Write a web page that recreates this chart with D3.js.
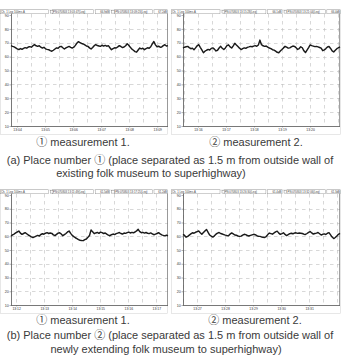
<!DOCTYPE html>
<html><head><meta charset="utf-8">
<script src="https://cdn.jsdelivr.net/npm/d3@7"></script>
<style>html,body{margin:0;padding:0;background:#fff;}svg{display:block;}</style>
</head><body>
<svg id="c" width="341" height="363"></svg>
<script>
// ---------- data ----------
const yTicks = [10, 20, 30, 40, 50, 60, 70, 80, 90];

const series1 = [67.9,67.4,67.0,66.3,65.6,65.1,65.8,65.3,66.0,66.5,66.1,66.9,67.2,66.8,67.9,68.6,67.8,67.4,67.9,66.8,
66.2,66.7,65.6,65.2,65.0,64.3,63.9,64.6,65.5,66.3,66.0,67.1,67.4,66.4,65.5,66.3,66.9,67.4,66.7,66.2,
66.8,68.1,69.8,70.8,70.0,69.5,69.1,68.4,67.7,67.4,66.3,65.5,66.6,67.9,68.6,68.0,67.7,67.4,68.2,67.6,
68.1,67.5,67.9,66.4,65.0,65.7,66.4,66.2,67.0,67.9,67.3,66.5,66.9,67.8,69.3,68.2,66.7,65.4,64.6,63.6,
63.2,64.8,66.2,65.6,66.0,65.0,65.7,66.4,66.0,67.1,69.2,70.9,68.5,67.1,67.5,66.8,67.0,67.9,68.6,67.6,67.9];

const series2 = [66.2,66.8,67.1,67.4,66.5,65.7,66.1,65.0,66.3,67.8,68.6,66.7,64.9,62.8,63.9,64.6,65.2,64.8,65.9,66.3,
65.4,64.1,64.6,66.2,67.4,66.0,65.1,66.3,67.9,68.5,67.0,66.2,67.8,69.6,68.4,67.3,66.1,65.1,65.8,66.3,
66.0,66.7,67.0,67.4,67.1,67.6,67.9,67.5,68.4,71.9,68.6,67.8,67.4,67.6,66.9,66.2,65.8,65.0,64.7,63.9,
63.1,62.8,64.0,65.1,66.3,67.4,66.8,66.1,66.3,67.0,67.6,67.4,66.5,65.2,65.8,67.1,66.4,64.2,62.9,64.7,
66.5,68.4,67.9,67.6,67.2,67.4,67.0,66.6,66.1,64.3,64.9,65.8,66.9,67.3,65.9,64.2,63.4,64.6,65.7,66.4,67.0];

const series3 = [60.2,61.0,61.6,62.5,63.1,63.8,62.3,61.4,62.0,62.6,61.8,60.9,60.3,59.6,59.1,59.5,60.1,60.6,60.2,61.3,
61.8,61.5,62.2,62.6,62.0,62.4,62.1,61.0,60.5,61.4,62.3,62.6,61.6,60.4,61.2,62.0,63.1,63.8,62.1,60.6,
59.7,58.9,58.3,57.6,57.1,56.9,56.8,57.5,58.0,59.2,60.5,64.6,63.2,61.9,62.4,62.8,62.1,63.0,62.6,62.0,
62.4,61.5,60.8,60.4,61.1,61.6,61.2,61.9,62.3,62.7,62.0,61.6,62.3,62.1,62.6,63.0,62.4,62.8,62.5,63.1,
63.9,65.0,63.4,62.6,62.8,62.3,62.7,62.2,61.9,62.4,61.8,61.1,61.5,62.0,62.6,61.7,61.0,60.6,60.3,60.8,60.4];

const series4 = [61.4,60.6,59.3,59.9,60.8,61.7,62.5,62.2,62.9,63.4,63.8,62.6,61.5,62.7,63.9,64.9,62.8,60.9,60.1,59.4,
60.3,61.5,62.3,62.7,62.0,61.6,61.2,60.8,60.5,60.3,61.6,62.4,61.7,60.9,60.7,60.2,59.9,60.1,60.8,61.4,
61.2,60.5,60.2,60.6,61.0,61.4,61.1,60.4,60.0,59.9,59.5,59.3,59.1,59.8,61.2,62.3,61.9,61.5,62.4,63.2,
63.7,62.3,61.4,61.9,62.5,61.3,60.5,61.2,61.9,62.2,61.8,62.3,62.5,62.1,62.4,62.2,62.0,61.5,61.3,62.0,
62.8,63.4,62.4,61.6,62.0,62.3,62.7,61.8,60.9,61.4,61.7,61.3,62.2,62.6,61.0,59.4,58.3,59.1,60.2,61.4,62.1];

// time windows (start, end) and minute tick labels for each panel
const window1 = ["13:03:47", "13:09:23"];
const ticks1  = ["13:04", "13:05", "13:06", "13:07", "13:08", "13:09"];
const window2 = ["13:15:28", "13:21:04"];
const ticks2  = ["13:16", "13:17", "13:18", "13:19", "13:20"];
const window3 = ["13:11:49", "13:17:25"];
const ticks3  = ["13:12", "13:13", "13:14", "13:15", "13:16", "13:17"];
const window4 = ["13:26:30", "13:32:06"];
const ticks4  = ["13:27", "13:28", "13:29", "13:30", "13:31"];

const header1 = ["Ch. 1 Leq 100ms A", "PN:070803 13:03:47(Leq)", "66.9dB", "PN:070803 13:09:23(Leq)", "67.2dB"];
const header2 = ["Ch. 1 Leq 100ms A", "PN:070803 13:15:28(Leq)", "66.1dB", "PN:070803 13:21:04(Leq)", "66.4dB"];
const header3 = ["Ch. 1 Leq 100ms A", "PN:070803 13:11:49(Leq)", "61.5dB", "PN:070803 13:17:25(Leq)", "61.2dB"];
const header4 = ["Ch. 1 Leq 100ms A", "PN:070803 13:26:30(Leq)", "61.4dB", "PN:070803 13:32:06(Leq)", "61.3dB"];

const subCaptions = ["\u2460 measurement 1.", "\u2461 measurement 2."];
const captionA = ["(a) Place number \u2460 (place separated as 1.5 m from outside wall of", "existing folk museum to superhighway)"];
const captionB = ["(b) Place number \u2461 (place separated as 1.5 m from outside wall of", "newly extending folk museum to superhighway)"];

// ---------- drawing ----------
const svg = d3.select("#c");
const parseT = d3.timeParse("%H:%M:%S");
const parseM = d3.timeParse("%H:%M");
const tinyFont = "Liberation Sans, Arial, sans-serif";

function panel(cfg) {
  const {x0, x1, yTop, yBot, hx0, hx1, hy, values, win, ticks, header} = cfg;
  const t0 = parseT(win[0]), t1 = parseT(win[1]);
  const x = d3.scaleTime().domain([t0, t1]).range([x0, x1]);
  const y = d3.scaleLinear().domain([10, 90]).range([yBot, yTop]);
  const g = svg.append("g");

  // outer light frame
  g.append("rect").attr("x", hx0 + 0.5).attr("y", hy + 0.5)
    .attr("width", hx1 - hx0 - 1).attr("height", yBot + 8 - hy)
    .attr("fill", "none").attr("stroke", "#d8d8d8").attr("stroke-width", 0.6);

  // header strip
  const hh = 4;
  const hg = g.append("g").attr("font-family", tinyFont).attr("font-size", 2.8).attr("fill", "#444");
  const w = hx1 - hx0;
  const boxes = [
    [0, 0.29, header[0], "start"],
    [0.31, 0.56, header[1], "start"],
    [0.565, 0.655, header[2], "end"],
    [0.68, 0.91, header[3], "start"],
    [0.915, 1.0, header[4], "end"]
  ];
  boxes.forEach(([a, b, txt, anc]) => {
    const bx = hx0 + a * w, bw = (b - a) * w;
    hg.append("rect").attr("x", bx + 0.3).attr("y", hy + 0.3).attr("width", bw - 0.6).attr("height", hh)
      .attr("fill", "#fff").attr("stroke", "#888").attr("stroke-width", 0.4);
    hg.append("text").attr("x", anc === "end" ? bx + bw - 1 : bx + 1).attr("y", hy + 3.3)
      .attr("text-anchor", anc).text(txt);
  });
  [0.30, 0.665].forEach(a => {
    hg.append("rect").attr("x", hx0 + a * w).attr("y", hy + 1).attr("width", 2.6).attr("height", 2.6)
      .attr("fill", "#fff").attr("stroke", "#777").attr("stroke-width", 0.4);
  });

  // grid
  const gridT = x.ticks(d3.timeSecond.every(30));
  g.append("g").selectAll("line").data(gridT).join("line")
    .attr("x1", d => Math.round(x(d)) + 0.5).attr("x2", d => Math.round(x(d)) + 0.5)
    .attr("y1", yTop - 1).attr("y2", yBot)
    .attr("stroke", "#bdbdbd").attr("stroke-width", 0.6).attr("stroke-dasharray", "3.5,3.5");
  g.append("g").selectAll("line").data(yTicks.filter(v => v > 10 && v < 90)).join("line")
    .attr("x1", x0).attr("x2", x1)
    .attr("y1", d => Math.round(y(d)) + 0.5).attr("y2", d => Math.round(y(d)) + 0.5)
    .attr("stroke", "#bdbdbd").attr("stroke-width", 0.6).attr("stroke-dasharray", "3.5,3.5");

  // frame lines
  g.append("line").attr("x1", x0 + 0.5).attr("x2", x0 + 0.5).attr("y1", hy + hh).attr("y2", yBot + 0.5)
    .attr("stroke", "#555").attr("stroke-width", 0.8);
  g.append("line").attr("x1", x1 - 0.5).attr("x2", x1 - 0.5).attr("y1", hy + hh).attr("y2", yBot + 0.5)
    .attr("stroke", "#777").attr("stroke-width", 0.7);
  g.append("line").attr("x1", x0).attr("x2", x1).attr("y1", yBot + 0.5).attr("y2", yBot + 0.5)
    .attr("stroke", "#555").attr("stroke-width", 0.8);

  // y axis labels
  const yAxis = d3.axisLeft(y).tickValues(yTicks).tickSize(1.5).tickPadding(0.8);
  const ya = g.append("g").attr("transform", `translate(${x0},0)`).call(yAxis);
  ya.select(".domain").remove();
  ya.selectAll("line").attr("stroke", "#666").attr("stroke-width", 0.5);
  ya.selectAll("text").attr("font-size", 3.6).attr("font-family", tinyFont).attr("fill", "#333");

  // x axis labels
  const xAxis = d3.axisBottom(x).tickValues(ticks.map(s => {
      const m = parseM(s); const d = new Date(t0); d.setHours(m.getHours(), m.getMinutes(), 0, 0); return d;
    })).tickFormat((d, i) => ticks[i]).tickSize(1.5).tickPadding(0.6);
  const xa = g.append("g").attr("transform", `translate(0,${yBot})`).call(xAxis);
  xa.select(".domain").remove();
  xa.selectAll("line").attr("stroke", "#666").attr("stroke-width", 0.5);
  xa.selectAll("text").attr("font-size", 3.4).attr("font-family", tinyFont).attr("fill", "#333");

  // series
  const n = values.length - 1;
  const line = d3.line()
    .x((d, i) => x(new Date(+t0 + (t1 - t0) * i / n)))
    .y(d => y(d));
  g.append("path").datum(values).attr("d", line)
    .attr("fill", "none").attr("stroke", "#1a1a1a").attr("stroke-width", 1.45)
    .attr("stroke-linejoin", "round");
}

panel({x0: 11, x1: 168, yTop: 15, yBot: 126, hx0: 0, hx1: 168, hy: 9.5, values: series1, win: window1, ticks: ticks1, header: header1});
panel({x0: 183, x1: 340, yTop: 15, yBot: 126, hx0: 171, hx1: 341, hy: 9.5, values: series2, win: window2, ticks: ticks2, header: header2});
panel({x0: 11, x1: 168, yTop: 195, yBot: 305, hx0: 0, hx1: 168, hy: 189.5, values: series3, win: window3, ticks: ticks3, header: header3});
panel({x0: 183, x1: 340, yTop: 195, yBot: 305, hx0: 171, hx1: 341, hy: 189.5, values: series4, win: window4, ticks: ticks4, header: header4});

// captions
const capFont = "Liberation Sans, Noto Sans CJK KR, sans-serif";
const cap = svg.append("g").attr("font-family", capFont).attr("font-size", 11).attr("fill", "#3a3a3a");
cap.append("text").attr("x", 83).attr("y", 146).attr("text-anchor", "middle").text(subCaptions[0]);
cap.append("text").attr("x", 256).attr("y", 146).attr("text-anchor", "middle").text(subCaptions[1]);
cap.append("text").attr("x", 170).attr("y", 164).attr("text-anchor", "middle").text(captionA[0]);
cap.append("text").attr("x", 151).attr("y", 177).attr("text-anchor", "middle").text(captionA[1]);
cap.append("text").attr("x", 83).attr("y", 324).attr("text-anchor", "middle").text(subCaptions[0]);
cap.append("text").attr("x", 255).attr("y", 324).attr("text-anchor", "middle").text(subCaptions[1]);
cap.append("text").attr("x", 170).attr("y", 339).attr("text-anchor", "middle").text(captionB[0]);
cap.append("text").attr("x", 166).attr("y", 353).attr("text-anchor", "middle").text(captionB[1]);
</script>
</body></html>
